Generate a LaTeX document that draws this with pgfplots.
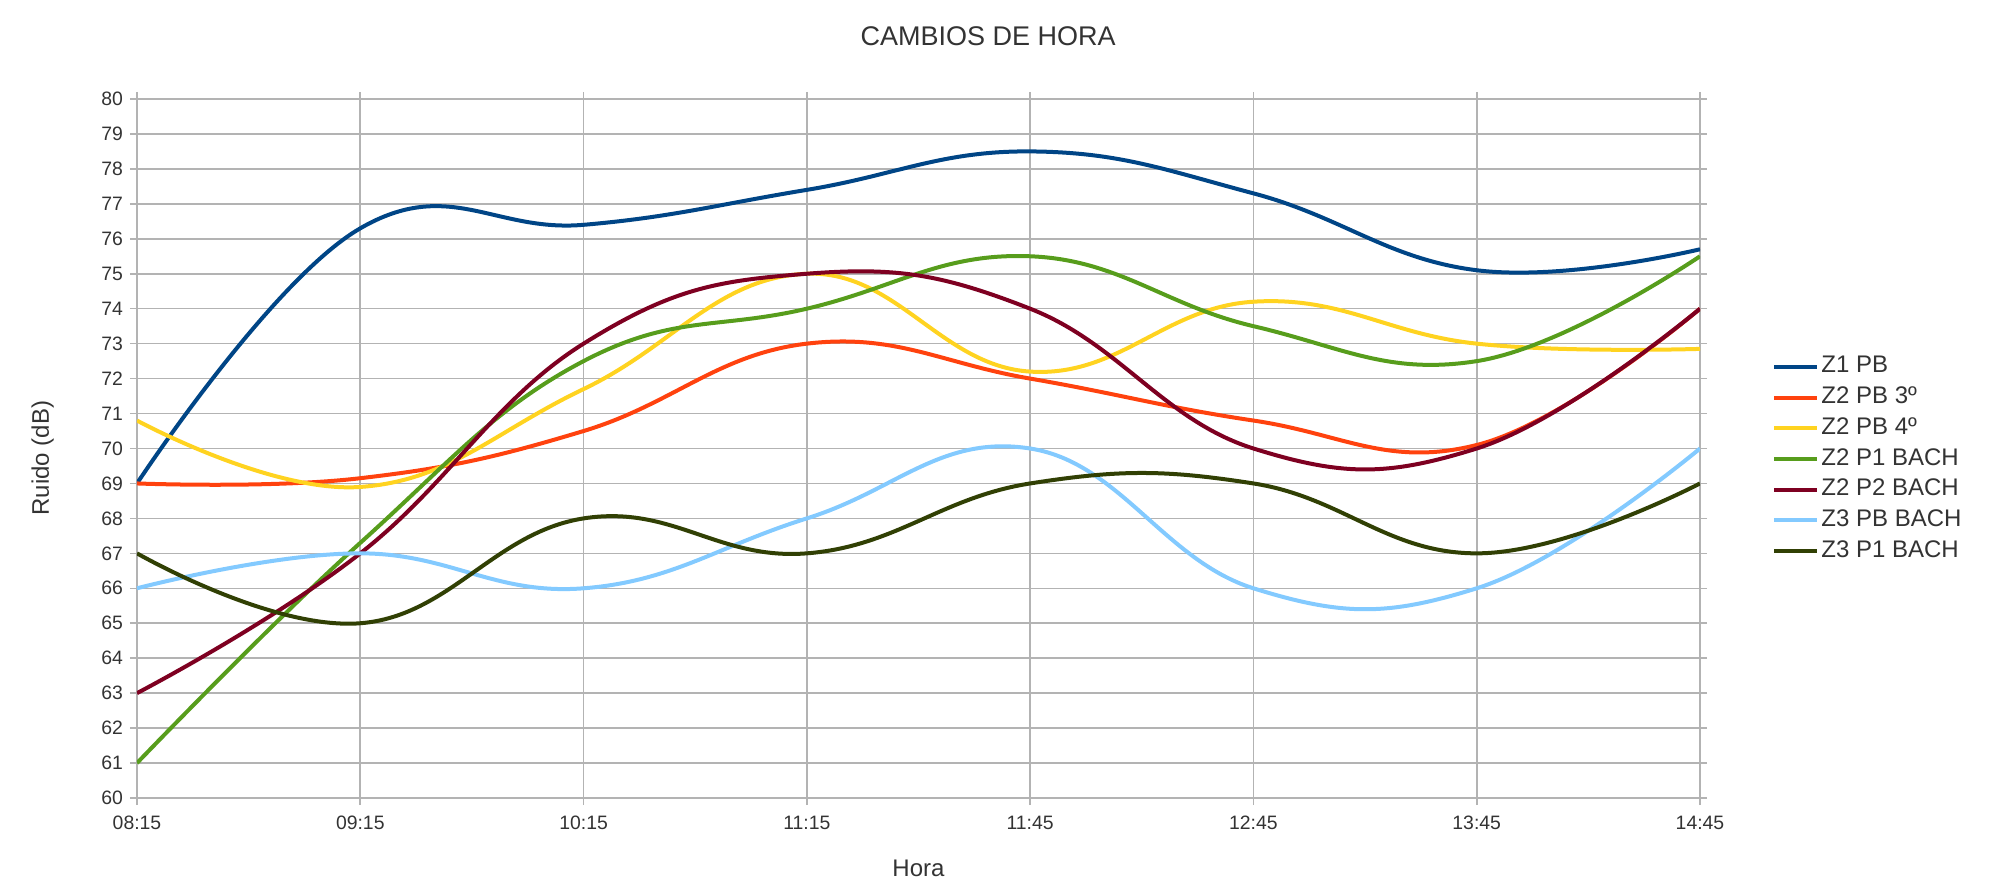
\documentclass[border=0pt]{standalone}
\usepackage{pgfplots}
\pgfplotsset{compat=1.18}
\usepackage{fontspec}
\setmainfont{Liberation Sans}
\definecolor{cA}{HTML}{004586}
\definecolor{cB}{HTML}{FF420E}
\definecolor{cC}{HTML}{FFD320}
\definecolor{cD}{HTML}{579D1C}
\definecolor{cE}{HTML}{7E0021}
\definecolor{cF}{HTML}{83CAFF}
\definecolor{cG}{HTML}{314004}
\definecolor{gridc}{HTML}{B3B3B3}
\definecolor{txt}{HTML}{333333}
\begin{document}
\begin{tikzpicture}
\begin{axis}[
  at={(0,0)}, anchor=south west,
  scale only axis, width=781.5pt, height=349.5pt,
  xmin=0, xmax=7, ymin=60, ymax=80,
  xtick={0,...,7},
  xticklabels={08:15,09:15,10:15,11:15,11:45,12:45,13:45,14:45},
  ytick={60,...,80},
  grid=major,
  grid style={gridc, line width=0.8pt},
  axis line style={gridc, line width=0.8pt},
  tick style={gridc, line width=0.8pt},
  tick align=outside, major tick length=3.5pt,
  /pgf/number format/assume math mode=true,
  ticklabel style={font=\fontsize{9.7}{11}\selectfont, text=txt},
  xticklabel style={yshift=-2pt},
  title={CAMBIOS DE HORA},
  title style={at={(axis description cs:0.5445,1)}, anchor=center, yshift=25.5pt, font=\fontsize{13.5}{15}\selectfont, text=txt},
  xlabel={Hora},
  xlabel style={at={(axis description cs:0.5,-0.1)}, anchor=center, font=\fontsize{12}{14}\selectfont, text=txt},
  ylabel={Ruido (dB)},
  ylabel style={at={(axis description cs:-0.0604,0.486)}, anchor=center, font=\fontsize{12}{14}\selectfont, text=txt},
  legend cell align=left,
  legend style={at={(axis description cs:1,0.485)}, anchor=west, xshift=33pt,
    draw=none, fill=none, font=\fontsize{12}{14}\selectfont, text=txt,
    nodes={inner sep=1pt, text height=8.6pt, text depth=2.5pt},
    row sep=2.25pt},
  legend image code/.code={\draw[#1, line width=2pt] (0pt,0pt) -- (21.5pt,0pt);},
  every axis plot/.append style={line width=2pt, smooth, tension=0.72, mark=none},
]
\addplot[cA] coordinates {(0,69) (1,76.3) (2,76.4) (3,77.4) (4,78.5) (5,77.3) (6,75.1) (7,75.7)};
\addlegendentry{Z1 PB}
\addplot[cB] coordinates {(0,69) (1,69.15) (2,70.5) (3,73) (4,72) (5,70.8) (6,70.1) (7,74)};
\addlegendentry{Z2 PB 3º}
\addplot[cC] coordinates {(0,70.8) (1,68.9) (2,71.7) (3,75) (4,72.2) (5,74.2) (6,73.0) (7,72.85)};
\addlegendentry{Z2 PB 4º}
\addplot[cD] coordinates {(0,61) (1,67.3) (2,72.5) (3,74) (4,75.5) (5,73.5) (6,72.5) (7,75.5)};
\addlegendentry{Z2 P1 BACH}
\addplot[cE] coordinates {(0,63) (1,67) (2,73) (3,75) (4,74) (5,70) (6,70) (7,74)};
\addlegendentry{Z2 P2 BACH}
\addplot[cF] coordinates {(0,66) (1,67) (2,66) (3,68) (4,70) (5,66) (6,66) (7,70)};
\addlegendentry{Z3 PB BACH}
\addplot[cG] coordinates {(0,67) (1,65) (2,68) (3,67) (4,69) (5,69) (6,67) (7,69)};
\addlegendentry{Z3 P1 BACH}
\end{axis}
\pgfresetboundingbox
\useasboundingbox (-68.5pt,-40.5pt) rectangle (932pt,399pt);
\end{tikzpicture}
\end{document}
